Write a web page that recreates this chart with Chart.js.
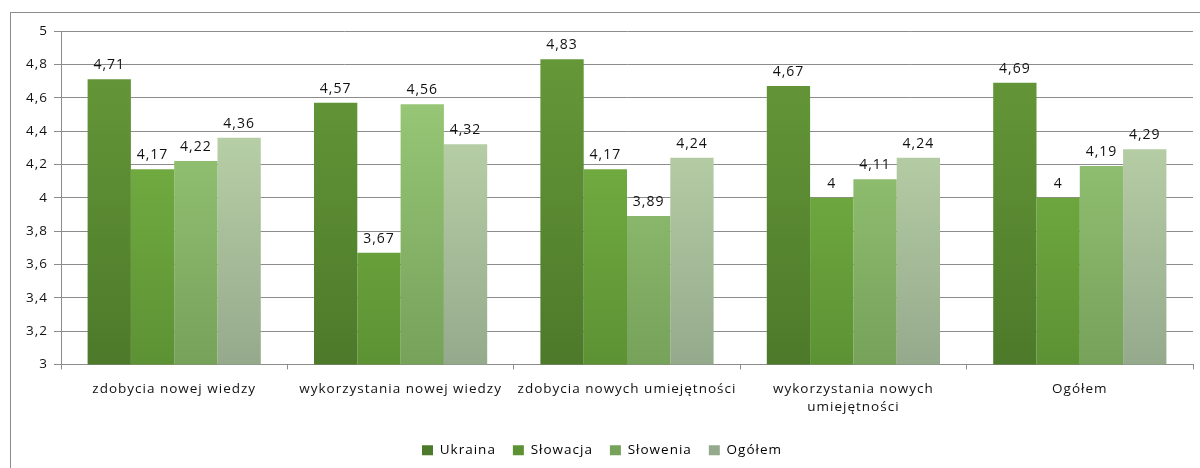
<!DOCTYPE html>
<html>
<head>
<meta charset="utf-8">
<script src="https://cdn.jsdelivr.net/npm/chart.js@4.4.0/dist/chart.umd.min.js"></script>
<style>
    body { margin: 0; background: #fff; overflow: hidden; }
    #box {
        position: absolute; left: 10px; top: 12px;
        width: 1200px; height: 470px;
        border: 1px solid #8c8c8c;
    }
</style>
</head>
<body>
<div id="box"><canvas id="ratingChart"></canvas></div>
<script>
const categories = [
    'zdobycia nowej wiedzy',
    'wykorzystania nowej wiedzy',
    'zdobycia nowych umiejętności',
    ['wykorzystania nowych', 'umiejętności'],
    'Ogółem'
];
const ukraina = [4.71, 4.57, 4.83, 4.67, 4.69];
const slowacja = [4.17, 3.67, 4.17, 4.00, 4.00];
const slowenia = [4.22, 4.56, 3.89, 4.11, 4.19];
const ogolem = [4.36, 4.32, 4.24, 4.24, 4.29];

const seriesNames = ['Ukraina', 'Słowacja', 'Słowenia', 'Ogółem'];
// top / bottom colour of each bar gradient
const seriesColors = [
    ['#679a3a', '#4d7a2a'],
    ['#7dba47', '#5d9234'],
    ['#a0d07e', '#76a25a'],
    ['#c6dfb2', '#95aa8c']
];

const fontFamily = '"Open Sans", "DejaVu Sans", sans-serif';
const fmt = v => Number(v.toFixed(2)).toString().replace('.', ',');

function gradientFor(i) {
    return ctx => {
        const area = ctx.chart.chartArea;
        if (!area) return seriesColors[i][0];
        const g = ctx.chart.ctx.createLinearGradient(0, area.top, 0, area.bottom);
        g.addColorStop(0, seriesColors[i][0]);
        g.addColorStop(1, seriesColors[i][1]);
        return g;
    };
}

// the original text is drawn with loose letter spacing
const spacing = {
    id: 'spacing',
    beforeLayout(chart) { chart.ctx.letterSpacing = '1px'; },
    beforeDraw(chart) { chart.ctx.letterSpacing = '1px'; }
};

const valueLabels = {
    id: 'valueLabels',
    afterDatasetsDraw(chart) {
        const c = chart.ctx;
        c.save();
        c.font = '14px ' + fontFamily;
        c.fillStyle = '#111';
        c.textAlign = 'center';
        c.textBaseline = 'bottom';
        chart.data.datasets.forEach((ds, di) => {
            chart.getDatasetMeta(di).data.forEach((bar, i) => {
                c.fillText(fmt(ds.data[i]), bar.x, bar.y - 7);
            });
        });
        c.restore();
    }
};

const data = [ukraina, slowacja, slowenia, ogolem];

new Chart(document.getElementById('ratingChart'), {
    type: 'bar',
    data: {
        labels: categories,
        datasets: seriesNames.map((name, i) => ({
            label: name,
            data: data[i],
            backgroundColor: gradientFor(i),
            borderWidth: 0,
            barPercentage: 1,
            categoryPercentage: 0.765
        }))
    },
    options: {
        responsive: true,
        maintainAspectRatio: false,
        animation: false,
        layout: {
            padding: { top: 18, right: 18, bottom: 16, left: 0 }
        },
        scales: {
            x: {
                grid: {
                    offset: true,
                    drawOnChartArea: false,
                    drawTicks: true,
                    tickLength: 5,
                    color: '#8c8c8c'
                },
                border: { color: '#8c8c8c' },
                ticks: {
                    font: { family: fontFamily, size: 13.5, lineHeight: 1.3 },
                    color: '#111',
                    maxRotation: 0,
                    autoSkip: false,
                    padding: 11
                }
            },
            y: {
                min: 3,
                max: 5,
                afterFit: scale => { scale.width = 50; },
                grid: {
                    color: '#8c8c8c',
                    tickLength: 7
                },
                border: { color: '#8c8c8c' },
                ticks: {
                    stepSize: 0.2,
                    font: { family: fontFamily, size: 13.5 },
                    color: '#111',
                    padding: 6,
                    callback: v => fmt(Number(v.toFixed(1)))
                }
            }
        },
        plugins: {
            tooltip: { enabled: false },
            legend: {
                position: 'bottom',
                labels: {
                    boxWidth: 11,
                    boxHeight: 10,
                    padding: 17,
                    color: '#111',
                    font: { family: fontFamily, size: 13.5 },
                    generateLabels: chart => seriesNames.map((name, i) => ({
                        text: name,
                        fillStyle: seriesColors[i][1],
                        strokeStyle: seriesColors[i][1],
                        lineWidth: 0,
                        datasetIndex: i
                    }))
                }
            }
        }
    },
    plugins: [spacing, valueLabels]
});
</script>
</body>
</html>
